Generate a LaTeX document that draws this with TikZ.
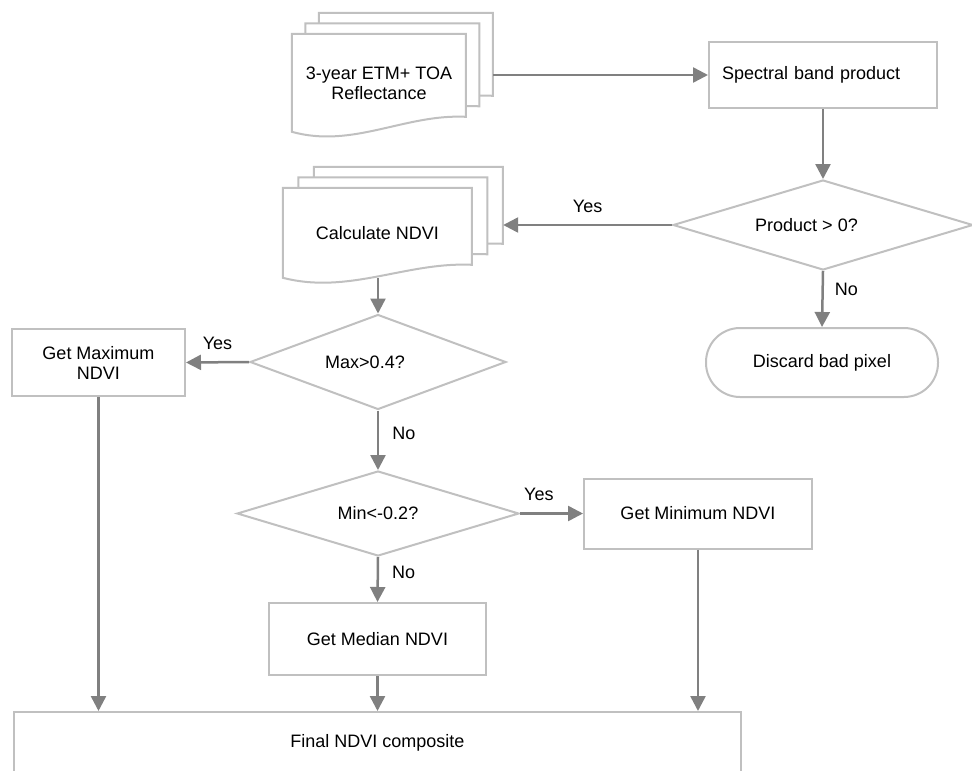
\documentclass[tikz,border=0pt]{standalone}
\usepackage{fontspec}
\setmainfont{Liberation Sans}
\usetikzlibrary{shapes.geometric,arrows.meta,calc,backgrounds}
\definecolor{linegray}{RGB}{192,192,192}
\definecolor{arrowgray}{RGB}{128,128,128}
\tikzset{
  every node/.style={font=\fontsize{18}{20}\selectfont, inner sep=0pt},
  sheet/.style={draw=linegray, line width=2pt, fill=white},
  process/.style={draw=linegray, line width=2pt, fill=white, align=center},
  decision/.style={diamond, aspect=3, draw=linegray, line width=2pt, fill=white},
  terminal/.style={draw=linegray, line width=2pt, fill=white, rounded corners=34pt},
  flow/.style={draw=arrowgray, line width=2.5pt, -{Triangle[length=15pt,width=15pt]}}
}
% stack of three document sheets behind a node
% #1 node, #2 width, #3 left height, #4 right height, #5 x offset
\newcommand{\stackdoc}[5]{%
  \begin{pgfonlayer}{background}
    \foreach \k in {2,1,0}{
      \begin{scope}[shift={($(#1.north west)+(\k*#5,-\k*10.5)$)}]
        \filldraw[sheet] (0,0) -- (#2,0) -- (#2,#4)
          .. controls (0.65*#2,#4-3) and (0.35*#2,#3+17) .. (0,#3) -- cycle;
      \end{scope}}
  \end{pgfonlayer}}

\begin{document}
\begin{tikzpicture}[x=1pt,y=-1pt]
\useasboundingbox (0,0) rectangle (972,771);

% Input documents and first step
\node[align=center, minimum width=174, minimum height=98] (toa) at (379,83) {3-year ETM+ TOA\\Reflectance};
\stackdoc{toa}{174}{98}{83}{13.5}
\coordinate (toaback) at ($(toa.north east)+(27,-21)$);

\node[process, minimum width=228, minimum height=66, text width=202, align=left] (spec) at (823,75) {Spectral band product};

\node[decision, minimum width=300, minimum height=90] (prod) at (823,225) {Product > 0?\hspace*{33pt}};
\node[terminal, minimum width=232, minimum height=69] (disc) at (822,362.5) {Discard bad pixel};

\node[align=center, minimum width=189, minimum height=90] (calc) at (377.5,233) {Calculate NDVI};
\stackdoc{calc}{189}{90}{77}{15.5}
\coordinate (calcback) at ($(calc.north east)+(31,-21)$);

% NDVI tests
\node[decision, minimum width=256, minimum height=95] (max) at (378,362) {Max>0.4?\hspace*{26pt}};
\node[process, minimum width=173, minimum height=67] (gmax) at (98.5,362.5) {Get Maximum\\NDVI};
\node[decision, minimum width=282, minimum height=85] (min) at (378,513.5) {Min<-0.2?};
\node[process, minimum width=228, minimum height=70] (gmin) at (698,513.5) {Get Minimum NDVI};
\node[process, minimum width=217, minimum height=72] (gmed) at (377.5,639) {Get Median NDVI};
\node[process, minimum width=727, minimum height=62] (final) at (377.5,743) {Final NDVI composite};

% Connectors
\draw[flow] (toaback |- spec.west) -- (spec.west);
\draw[flow] (spec.south) -- (prod.north);
\draw[flow] (prod.west) -- node[above=11pt] {Yes} (prod.west -| calcback);
\draw[flow] (prod.south) -- node[pos=0.33, right=11pt] {No} (disc.north);
\draw[flow] (calc.south -| max.north) -- (max.north);
\draw[flow] (max.west) -- node[above=11pt] {Yes} (gmax.east);
\draw[flow] (max.south) -- node[pos=0.39, right=13pt] {No} (min.north);
\draw[flow] (min.east) -- node[pos=0.3, above=12pt] {Yes} (gmin.west);
\draw[flow] (min.south) -- node[pos=0.34, right=13pt] {No} (gmed.north);
\draw[flow] (gmax.south) -- (gmax.south |- final.north);
\draw[flow] (gmed.south) -- (gmed.south |- final.north);
\draw[flow] (gmin.south) -- (gmin.south |- final.north);

\end{tikzpicture}
\end{document}
